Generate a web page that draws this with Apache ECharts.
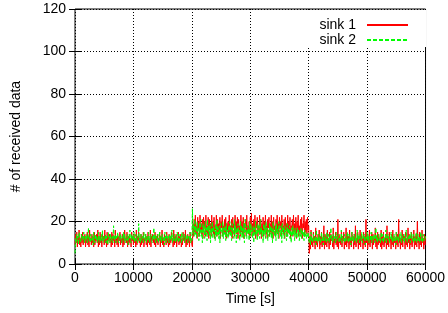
<!DOCTYPE html>
<html>
<head>
<meta charset="utf-8">
<script src="https://cdn.jsdelivr.net/npm/echarts@6/dist/echarts.min.js"></script>
<style>
  html, body { margin: 0; padding: 0; background: #fff; }
  #chart { width: 448px; height: 313px; }
</style>
</head>
<body>
<div id="chart"></div>
<script>
// sampling step of the time axis [s]
const step = 100;

const seriesNames = ['sink 1', 'sink 2'];

// sink 1 samples, one every 100 s from 0 to 60000 s
const sink1 = [
  // 0 - 20000 s
  9,14,10,15,8,13,11,16,9,12,8,14,10,15,9,13,11,14,8,12,
  10,15,9,13,8,16,11,12,9,14,10,13,8,15,9,12,11,14,10,16,
  8,13,9,15,10,12,8,14,11,13,9,16,10,12,8,15,9,13,11,14,
  10,12,8,15,9,14,11,13,8,16,10,12,9,14,8,13,11,15,9,12,
  10,14,8,13,9,16,11,12,10,15,8,13,9,14,10,12,8,15,11,13,
  9,14,10,12,8,16,9,13,11,15,10,12,8,14,9,13,10,15,8,12,
  11,14,9,13,8,15,10,12,9,16,8,13,11,14,10,12,9,15,8,13,
  10,14,9,12,11,15,8,13,10,16,9,12,8,14,11,13,9,15,10,12,
  8,14,9,13,10,15,11,12,8,16,9,13,10,14,8,12,11,15,9,13,
  10,14,8,12,9,15,11,13,10,16,8,12,9,14,10,13,8,15,11,12,
  9,
  // 20100 - 40000 s
  8,19,13,21,15,23,14,18,12,22,16,20,13,23,15,19,14,21,12,22,
  17,20,13,23,15,18,14,22,12,21,16,19,13,23,15,20,14,22,12,18,
  16,23,13,21,15,19,14,22,12,20,17,23,13,18,15,21,14,22,12,19,
  16,20,13,23,15,18,14,21,12,22,17,19,13,23,15,20,14,22,12,21,
  16,18,13,23,15,20,14,22,12,19,17,21,13,23,15,18,14,20,12,22,
  16,24,13,19,15,21,14,23,12,20,17,22,13,18,15,23,14,21,12,19,
  16,22,13,20,15,23,14,18,12,21,17,22,13,19,15,23,14,20,12,22,
  16,18,13,21,15,23,14,19,12,22,17,20,13,23,15,18,14,21,12,22,
  16,19,13,23,15,20,14,22,12,18,17,21,13,23,15,19,14,22,12,20,
  16,23,13,18,15,21,14,22,12,19,17,23,13,20,15,21,14,22,16,18,
  // 40100 - 60000 s
  5,13,7,16,9,12,8,15,10,13,7,17,9,12,8,14,11,16,7,13,
  9,15,8,12,10,18,7,14,9,13,8,16,10,12,7,15,9,14,11,13,
  8,17,7,12,10,15,9,13,8,21,7,14,10,12,9,16,8,13,11,15,
  7,12,9,17,8,14,10,13,7,16,9,12,8,15,11,13,7,14,9,18,
  8,12,10,15,7,13,9,16,8,14,11,12,7,15,9,13,8,21,10,14,
  7,12,9,16,8,13,10,15,7,14,9,12,11,17,8,13,7,15,9,14,
  10,12,8,16,7,13,9,15,8,12,10,14,7,18,9,13,8,15,11,12,
  7,14,9,16,8,13,10,12,7,15,9,14,8,21,10,13,7,12,9,16,
  8,14,11,13,7,15,9,12,8,17,10,14,7,13,9,15,8,12,11,16,
  7,13,9,14,8,20,10,12,7,15,9,13,8,16,10,12,7,14,9,13
];

// sink 2 samples, same time base
const sink2 = [
  // 0 - 20000 s
  5,12,10,14,11,13,9,15,12,11,10,14,12,13,11,15,10,12,13,11,
  14,10,12,17,11,13,10,14,12,11,13,9,15,12,10,14,11,13,12,10,
  15,11,13,10,12,14,11,16,10,13,12,11,14,10,13,12,9,15,11,13,
  10,14,12,11,13,10,18,12,11,14,10,13,12,15,11,10,13,12,14,11,
  10,13,12,15,11,14,10,12,13,11,14,9,13,12,16,11,10,14,12,13,
  11,15,10,12,14,11,13,10,12,19,11,13,10,14,12,11,13,10,15,12,
  11,14,10,13,12,11,15,10,13,12,14,11,10,13,12,17,11,14,10,12,
  13,11,14,10,12,15,11,13,10,14,12,11,13,9,15,12,10,14,11,13,
  12,10,14,11,13,12,16,10,13,11,14,12,10,13,11,15,12,10,14,11,
  13,12,10,15,11,13,12,14,10,11,13,12,14,10,12,13,11,15,10,12,
  11,
  // 20100 - 40000 s
  26,15,19,13,21,14,18,12,20,15,17,11,19,14,21,13,16,10,19,15,
  18,12,20,14,17,11,21,15,18,13,19,10,17,14,20,12,18,15,16,11,
  19,13,21,14,17,12,18,10,19,15,16,13,20,12,17,14,18,11,19,13,
  16,12,18,14,20,13,17,11,19,15,16,12,21,14,18,10,17,13,19,15,
  16,11,20,14,18,12,17,13,19,10,21,15,16,12,18,14,17,11,20,13,
  19,15,16,12,18,10,17,14,20,13,16,11,19,15,18,12,21,14,17,13,
  16,10,19,14,18,12,20,15,17,11,16,13,19,14,18,12,17,10,20,15,
  16,13,18,11,19,14,17,12,20,15,16,13,18,10,19,14,17,12,18,15,
  16,11,19,13,17,14,18,12,16,10,17,13,18,14,16,11,17,13,15,12,
  17,14,16,11,15,13,17,12,16,14,15,11,16,13,15,12,14,13,15,12,
  // 40100 - 60000 s
  10,13,9,15,11,12,10,14,12,11,13,9,16,11,12,10,14,11,13,10,
  12,15,11,13,9,14,12,11,13,10,15,12,11,14,10,13,12,17,11,12,
  10,14,11,13,12,10,15,11,13,12,14,10,12,13,11,16,10,13,12,11,
  14,10,13,12,11,15,12,10,14,11,13,9,12,15,11,13,10,14,12,11,
  13,10,16,12,11,14,10,13,12,11,15,10,13,12,14,11,9,13,12,15,
  11,14,10,12,13,11,15,10,13,12,11,14,10,12,17,11,13,10,14,12,
  11,13,10,15,12,11,14,10,13,12,11,16,10,13,12,14,11,10,13,12,
  15,11,13,10,12,14,11,13,9,15,12,11,13,10,14,12,11,15,10,13,
  12,11,14,10,13,12,16,11,10,13,12,14,11,10,15,12,13,11,14,10,
  12,13,11,15,10,12,14,11,13,10,12,15,11,13,10,14,12,11,13,12
];

const xTicks = { min: 0, max: 60000, interval: 10000 };
const yTicks = { min: 0, max: 120, interval: 20 };

const font = '"Liberation Sans", Arial, sans-serif';

function pairs(values) {
  return values.map(function (v, i) { return [i * step, v]; });
}

let myChart = echarts.init(document.getElementById('chart'));

const gridLine = { show: true, lineStyle: { color: '#000', width: 1, type: [1, 2] } };
const tickIn = { show: true, inside: true, length: 6, lineStyle: { color: '#000' } };

var option = {
  animation: false,
  backgroundColor: '#fff',
  textStyle: { fontFamily: font, color: '#000' },
  grid: {
    left: 75, right: 22, top: 9, bottom: 49,
    show: true, borderColor: '#000', borderWidth: 1
  },
  legend: {
    orient: 'vertical',
    align: 'right',
    right: 22,
    top: 10,
    padding: [8, 17, 0, 15],
    backgroundColor: '#fff',
    itemWidth: 41,
    itemHeight: 14,
    itemGap: 1,
    itemStyle: { opacity: 0 },
    textStyle: { fontSize: 14, fontFamily: font, color: '#000', padding: [0, 6, 0, 0] },
    data: seriesNames
  },
  xAxis: [{
    type: 'value',
    min: xTicks.min, max: xTicks.max, interval: xTicks.interval,
    name: 'Time [s]',
    nameLocation: 'middle',
    nameGap: 28,
    nameTextStyle: { fontSize: 14, fontFamily: font, color: '#000' },
    axisLine: { show: false },
    axisTick: tickIn,
    axisLabel: {
      fontSize: 14, color: '#000', margin: 7, fontFamily: font,
      formatter: function (v) { return String(v); }
    },
    splitLine: gridLine
  }, {
    type: 'value', position: 'top',
    min: xTicks.min, max: xTicks.max, interval: xTicks.interval,
    axisLine: { show: false },
    axisTick: tickIn,
    axisLabel: { show: false },
    splitLine: { show: false }
  }],
  yAxis: [{
    type: 'value',
    min: yTicks.min, max: yTicks.max, interval: yTicks.interval,
    name: '# of received data',
    nameLocation: 'middle',
    nameGap: 52,
    nameTextStyle: { fontSize: 14, fontFamily: font, color: '#000' },
    axisLine: { show: false },
    axisTick: tickIn,
    axisLabel: { fontSize: 14, color: '#000', margin: 9, fontFamily: font },
    splitLine: gridLine
  }, {
    type: 'value', position: 'right',
    min: yTicks.min, max: yTicks.max, interval: yTicks.interval,
    axisLine: { show: false },
    axisTick: tickIn,
    axisLabel: { show: false },
    splitLine: { show: false }
  }],
  series: [{
    name: seriesNames[0],
    type: 'line',
    symbol: 'none',
    color: '#ff0000',
    lineStyle: { color: '#ff0000', width: 1 },
    data: pairs(sink1)
  }, {
    name: seriesNames[1],
    type: 'line',
    symbol: 'none',
    color: '#00ff00',
    lineStyle: { color: '#00ff00', width: 1, type: [4, 2] },
    data: pairs(sink2)
  }]
};

myChart.setOption(option);
</script>
</body>
</html>
